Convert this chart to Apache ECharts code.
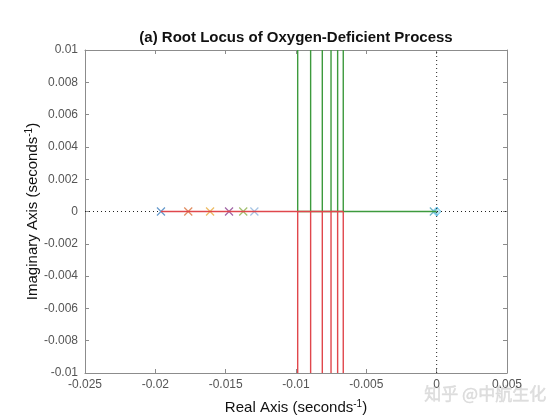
<!DOCTYPE html>
<html>
<head>
<meta charset="utf-8">
<script src="https://cdn.jsdelivr.net/npm/echarts@6/dist/echarts.min.js"></script>
<style>
  html, body { margin: 0; padding: 0; background: #fff; }
  #main { width: 560px; height: 420px; }
</style>
</head>
<body>
<div id="main"></div>
<script>
// open-loop poles (x markers) on the real axis
const poleX = [-0.0196, -0.01766, -0.01611, -0.01476, -0.01375, -0.01296, -0.0002];
const poleColors = ['#3f7fbf', '#d9703a', '#e8a93a', '#8a3f8e', '#8ab04a', '#8fb5dd', '#4aa0b8'];
// open-loop zero
const zeroX = [0];
// branch break-away points -> vertical branches
const branchX = [-0.00988, -0.00896, -0.00813, -0.00751, -0.00704, -0.00664];
const yTop = 0.01;
const yBottom = -0.01;
// real-axis segments
const redSeg = [-0.0196, -0.00664];
const greenSeg = [-0.00988, 0];

const xTicks = [-0.025, 0.005, 0.005];   // min, max, step
const yTicks = [-0.01, 0.01, 0.002];

let chartDom = document.getElementById('main');
let myChart = echarts.init(chartDom);

const green = '#3d9a3d';
const red = '#e0474c';
const fmt = v => String(+v.toFixed(4));

let series = [];

// dotted s-plane axes
series.push({
    type: 'line', symbol: 'none', silent: true,
    data: [[xTicks[0], 0], [xTicks[1], 0]],
    lineStyle: { color: '#222', width: 1, type: [1, 3] }
});
series.push({
    type: 'line', symbol: 'none', silent: true,
    data: [[0, yBottom], [0, yTop]],
    lineStyle: { color: '#222', width: 1, type: [1, 3] }
});

// green branches (upper half)
series.push({
    type: 'line', symbol: 'none',
    data: [[greenSeg[0], 0], [greenSeg[1], 0]],
    lineStyle: { color: green, width: 1.4 }
});
branchX.forEach(x => {
    series.push({
        type: 'line', symbol: 'none',
        data: [[x, 0], [x, yTop]],
        lineStyle: { color: green, width: 1.4 }
    });
});
// red branches (lower half)
series.push({
    type: 'line', symbol: 'none',
    data: [[redSeg[0], 0], [redSeg[1], 0]],
    lineStyle: { color: red, width: 1.4 }
});
branchX.forEach(x => {
    series.push({
        type: 'line', symbol: 'none',
        data: [[x, 0], [x, yBottom]],
        lineStyle: { color: red, width: 1.4 }
    });
});

// poles
poleX.forEach((x, i) => {
    series.push({
        type: 'scatter',
        symbol: 'path://M0,0L10,10M10,0L0,10',
        symbolSize: 8,
        data: [[x, 0]],
        itemStyle: { color: 'none', borderColor: poleColors[i], borderWidth: 1.2 }
    });
});
// zero
series.push({
    type: 'scatter',
    symbol: 'diamond',
    symbolSize: 9,
    data: zeroX.map(x => [x, 0]),
    itemStyle: { color: 'rgba(120,205,235,0.6)', borderColor: '#4dbeee', borderWidth: 1 }
});

const axisGray = '#8c8c8c';
const labelGray = '#555';

let option = {
    animation: false,
    textStyle: { fontFamily: 'Liberation Sans, Arial, sans-serif' },
    title: {
        text: '(a) Root Locus of Oxygen-Deficient Process',
        left: 291, top: 25, textAlign: 'center',
        textStyle: { fontSize: 15, fontWeight: 'bold', color: '#111' }
    },
    grid: { left: 85, right: 53, top: 50, bottom: 47 },
    xAxis: [{
        type: 'value', min: xTicks[0], max: xTicks[1], interval: xTicks[2],
        position: 'bottom',
        name: '{n|Real Axis (seconds}{s|-1}{n|)}',
        nameLocation: 'middle', nameGap: 26,
        nameTextStyle: {
            rich: {
                n: { fontSize: 15, color: '#111', lineHeight: 17 },
                s: { fontSize: 10, color: '#111', verticalAlign: 'top', lineHeight: 17 }
            }
        },
        axisLine: { onZero: false, lineStyle: { color: axisGray } },
        axisTick: { inside: true, length: 4, lineStyle: { color: axisGray } },
        axisLabel: { color: labelGray, fontSize: 12, margin: 6, formatter: fmt },
        splitLine: { show: false }
    }, {
        type: 'value', min: xTicks[0], max: xTicks[1], interval: xTicks[2],
        position: 'top',
        axisLine: { onZero: false, lineStyle: { color: axisGray } },
        axisTick: { inside: true, length: 4, lineStyle: { color: axisGray } },
        axisLabel: { show: false },
        splitLine: { show: false }
    }],
    yAxis: [{
        type: 'value', min: yTicks[0], max: yTicks[1], interval: yTicks[2],
        position: 'left',
        name: '{n|Imaginary Axis (seconds}{s|-1}{n|)}',
        nameLocation: 'middle', nameGap: 44,
        nameMoveOverlap: false,
        nameTextStyle: {
            rich: {
                n: { fontSize: 15, color: '#111', lineHeight: 17 },
                s: { fontSize: 10, color: '#111', verticalAlign: 'top', lineHeight: 17 }
            }
        },
        axisLine: { onZero: false, lineStyle: { color: axisGray } },
        axisTick: { inside: true, length: 4, lineStyle: { color: axisGray } },
        axisLabel: { color: labelGray, fontSize: 12, margin: 7, formatter: fmt },
        splitLine: { show: false }
    }, {
        type: 'value', min: yTicks[0], max: yTicks[1], interval: yTicks[2],
        position: 'right',
        axisLine: { onZero: false, lineStyle: { color: axisGray } },
        axisTick: { inside: true, length: 4, lineStyle: { color: axisGray } },
        axisLabel: { show: false },
        splitLine: { show: false }
    }],
    graphic: [{
        type: 'text', left: 424, top: 385,
        style: {
            text: '知乎 @中航生化',
            fill: 'rgba(215,215,215,0.8)',
            stroke: 'rgba(170,170,170,0.4)', lineWidth: 0.5,
            font: '17px "Noto Sans CJK SC"'
        }
    }],
    series: series
};

option && myChart.setOption(option);
</script>
</body>
</html>
